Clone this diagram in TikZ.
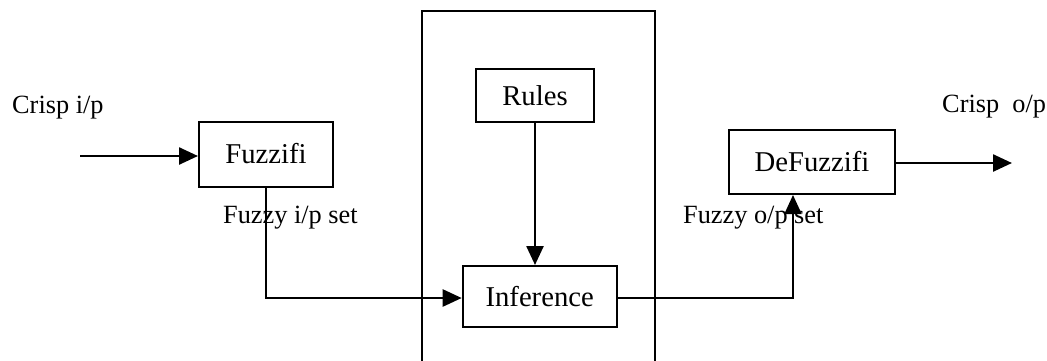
\documentclass[tikz,border=0pt]{standalone}
\usepackage{fontspec}
\setmainfont{Liberation Serif}
\usetikzlibrary{arrows.meta}
\tikzset{
  block/.style={draw, line width=2pt, inner sep=0pt, font=\fontsize{28.7}{34}\selectfont},
  lbl/.style={inner sep=0pt, anchor=base west, font=\fontsize{26.3}{31}\selectfont},
  flow/.style={line width=2.5pt, -{Triangle[length=19pt,width=17pt]}},
  thinflow/.style={line width=1.6pt, -{Triangle[length=19pt,width=17pt]}}
}
\begin{document}
\begin{tikzpicture}[x=1pt, y=-1pt]
\useasboundingbox (0,0) rectangle (1047,360);
% inference engine enclosure (runs off the bottom edge)
\draw[line width=2.3pt] (422,362) -- (422,11) -- (655,11) -- (655,362);

% blocks
\node[block, minimum width=134pt, minimum height=65pt] (fuzz) at (266,154) {Fuzzifi};
\node[block, minimum width=118pt, minimum height=53pt] (rules) at (535,95.5) {Rules};
\node[block, minimum width=154pt, minimum height=61pt] (inf) at (539.7,296.5) {Inference};
\node[block, minimum width=166pt, minimum height=64pt] (defuzz) at (812,162) {DeFuzzifi};

% labels
\node[lbl] (cin) at (12,113) {Crisp i/p};
\node[lbl] (cout) at (942,112) {Crisp\ \ o/p};
\node[lbl] (fin) at (223,223) {Fuzzy i/p set};
\node[lbl] (fout) at (683,223) {Fuzzy o/p set};

% connectors
\coordinate (src) at (80,156);
\coordinate (sink) at (1012,163);
\coordinate (bendin) at (266,298);
\coordinate (bendout) at (793,298);

\draw[flow] (src) -- (src -| fuzz.west);
\draw[flow] (fuzz.south) -- (bendin) -- (bendin -| inf.west);
\draw[flow] (rules.south) -- (inf.north -| rules.south);
\draw[thinflow] (bendout -| inf.east) -- (bendout) -- (bendout |- defuzz.south);
\draw[flow] (sink -| defuzz.east) -- (sink);
\end{tikzpicture}
\end{document}
